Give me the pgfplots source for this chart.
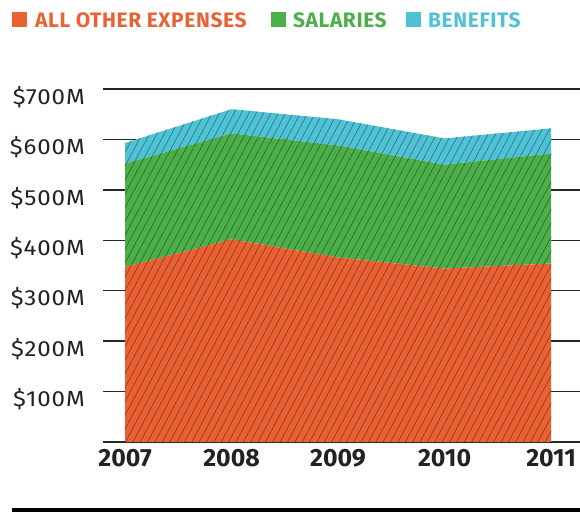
\documentclass[border=0pt]{standalone}
\usepackage{fontspec}
\setmainfont{Fira Sans}
\newfontfamily\legendfont[LetterSpace=3]{Fira Sans}
\newfontfamily\yfont[FakeStretch=1.1, LetterSpace=4]{Fira Sans}
\usepackage{pgfplots}
\pgfplotsset{compat=1.18}
\usetikzlibrary{patterns.meta}

\definecolor{cOrange}{HTML}{EA6233}
\definecolor{cGreen}{HTML}{4CAF4A}
\definecolor{cBlue}{HTML}{4FC2D6}
\definecolor{cText}{HTML}{222222}

% diagonal hatching drawn in a darker shade of the fill
\tikzset{hatch/.style={postaction={pattern={Lines[angle=62,distance=6.5bp,line width=0.75bp]},
  pattern color=#1!64!black}}}

\begin{document}
\begin{tikzpicture}[x=1bp,y=1bp]
\useasboundingbox (0,0) rectangle (580,512);

% legend across the top
\fill[cOrange] (12,485) rectangle (27,500);
\node[anchor=west, inner sep=0, text=cOrange, font=\legendfont\bfseries\fontsize{21}{21}\selectfont] at (35,492) {ALL OTHER EXPENSES};
\fill[cGreen] (271,485) rectangle (286,500);
\node[anchor=west, inner sep=0, text=cGreen, font=\legendfont\bfseries\fontsize{21}{21}\selectfont] at (293,492) {SALARIES};
\fill[cBlue] (406,485) rectangle (421,500);
\node[anchor=west, inner sep=0, text=cBlue, font=\legendfont\bfseries\fontsize{21}{21}\selectfont] at (428,492) {BENEFITS};

\begin{axis}[
    at={(103bp,70bp)}, anchor=south west,
    scale only axis, width=477bp, height=353bp,
    xmin=2006.793, xmax=2011.272,
    ymin=0, ymax=700,
    stack plots=y,
    axis line style={draw=none},
    tick style={draw=none},
    ymajorgrids,
    grid style={line width=1.3bp, color=black!85},
    xtick={2007,2008,2009,2010,2011},
    xticklabels={2007,2008,2009,2010,2011},
    ytick={0,100,...,700},
    yticklabels={{},\$100M,\$200M,\$300M,\$400M,\$500M,\$600M,\$700M},
    xticklabel style={font=\bfseries\fontsize{25}{25}\selectfont, text=cText, yshift=-4bp},
    yticklabel style={font=\yfont\fontsize{22}{22}\selectfont, text=cText, anchor=north east, inner sep=0pt, xshift=-18bp, yshift=3bp},
  ]
  \addplot[draw=none, fill=cOrange, hatch=cOrange] coordinates {
    (2007,347) (2008,402) (2009,366) (2010,344) (2011,354)
  } \closedcycle;
  \addplot[draw=none, fill=cGreen, hatch=cGreen] coordinates {
    (2007,205) (2008,210) (2009,222) (2010,206) (2011,218)
  } \closedcycle;
  \addplot[draw=none, fill=cBlue, hatch=cBlue] coordinates {
    (2007,41) (2008,48) (2009,52) (2010,52) (2011,50)
  } \closedcycle;
\end{axis}

% thick rule at the bottom
\fill[black] (12,0) rectangle (580,4);
\end{tikzpicture}
\end{document}
